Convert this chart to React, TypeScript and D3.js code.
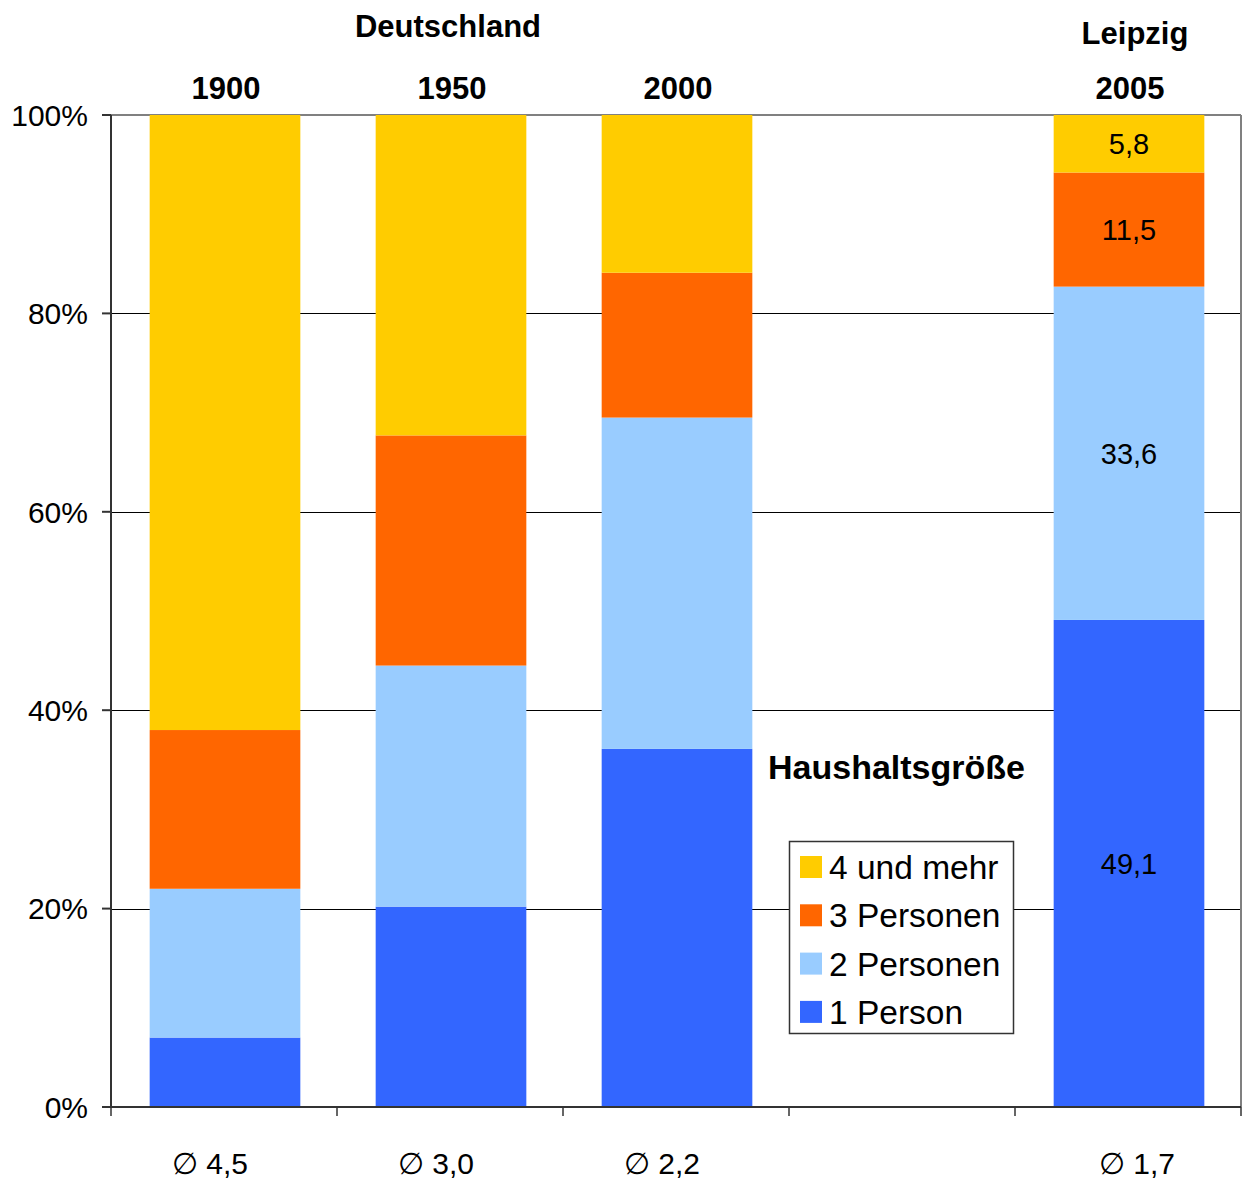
import * as d3 from 'd3';

// categories (the empty slot keeps the gap before Leipzig)
const categories = ['1900', '1950', '2000', '', '2005'];
const yearLabels = ['1900', '1950', '2000', '', '2005'];
const avgLabels = ['∅ 4,5', '∅ 3,0', '∅ 2,2', '', '∅ 1,7'];

// shares in percent, per category
const onePerson = [7, 20.2, 36.1, 0, 49.1];
const twoPersons = [15, 24.3, 33.4, 0, 33.6];
const threePersons = [16, 23.2, 14.6, 0, 11.5];
const fourPlus = [62, 32.3, 15.9, 0, 5.8];

const seriesNames = ['1 Person', '2 Personen', '3 Personen', '4 und mehr'];
const seriesColors = ['#3366ff', '#99ccff', '#ff6600', '#ffcc00'];
const yTicks = [0, 20, 40, 60, 80, 100];

const FONT = 'Liberation Sans, Arial, sans-serif';
const W = 1244;
const H = 1180;
const margin = { top: 115, right: 3, bottom: 73, left: 111 };

type Seg = { cat: string; key: string; y0: number; y1: number; i: number };

export default function App() {
  const keys = categories.map((c, i) => c || 'gap' + i);
  const x = d3
    .scaleBand<string>()
    .domain(keys)
    .range([margin.left + 1, W - margin.right + 1])
    .paddingInner(1 / 3)
    .paddingOuter(1 / 6);
  const y = d3.scaleLinear().domain([0, 100]).range([H - margin.bottom, margin.top]);

  const rows = keys.map((k, i) => ({
    cat: k,
    '1 Person': onePerson[i],
    '2 Personen': twoPersons[i],
    '3 Personen': threePersons[i],
    '4 und mehr': fourPlus[i],
  }));
  const stack = d3.stack<any>().keys(seriesNames)(rows);

  const segs: Seg[] = [];
  stack.forEach((layer, si) => {
    layer.forEach((d, ci) => {
      if (d[1] - d[0] > 0) segs.push({ cat: keys[ci], key: layer.key, y0: d[0], y1: d[1], i: si });
    });
  });

  const step = x.step();
  const bw = x.bandwidth();
  const boundaries = keys.map((k) => (x(k) as number) - (step - bw) / 2 - 1).concat([W - margin.right]);
  const cx = (k: string) => (x(k) as number) + bw / 2;

  const legendItems = seriesNames.map((n, i) => ({ name: n, color: seriesColors[i] })).reverse();
  const fmt = (v: number) => String(+v.toFixed(1)).replace('.', ',');

  return (
    <svg width={W} height={H} style={{ position: 'absolute', left: 0, top: 0 }} fontFamily={FONT}>
      <rect width={W} height={H} fill="#fff" />
      {/* grid */}
      {yTicks.slice(1, -1).map((t) => (
        <line key={t} x1={margin.left} x2={W - margin.right} y1={Math.round(y(t)) + 0.5} y2={Math.round(y(t)) + 0.5} stroke="#000" strokeWidth={1} />
      ))}
      {/* plot border top/right */}
      <line x1={margin.left} x2={W - margin.right} y1={y(100)} y2={y(100)} stroke="#808080" strokeWidth={2} />
      <line x1={W - margin.right} x2={W - margin.right} y1={y(100)} y2={y(0)} stroke="#808080" strokeWidth={2} />

      {/* bars */}
      {segs.map((s) => (
        <rect
          key={s.cat + s.key}
          x={x(s.cat)}
          width={bw}
          y={y(s.y1)}
          height={y(s.y0) - y(s.y1)}
          fill={seriesColors[s.i]}
        />
      ))}

      {/* value labels for Leipzig */}
      {segs
        .filter((s) => s.cat === '2005')
        .map((s) => (
          <text
            key={'l' + s.key}
            x={cx(s.cat)}
            y={y((s.y0 + s.y1) / 2)}
            dy="0.36em"
            textAnchor="middle"
            fontSize={29}
            fill="#000"
          >
            {fmt(s.y1 - s.y0)}
          </text>
        ))}

      {/* axes */}
      <line x1={margin.left} x2={margin.left} y1={y(100)} y2={y(0)} stroke="#333" strokeWidth={2} />
      <line x1={margin.left} x2={W - margin.right} y1={y(0)} y2={y(0)} stroke="#333" strokeWidth={2} />
      {yTicks.map((t) => (
        <g key={'yt' + t}>
          <line x1={margin.left - 9} x2={margin.left} y1={y(t)} y2={y(t)} stroke="#333" strokeWidth={2} />
          <text x={margin.left - 23} y={y(t)} dy="0.36em" textAnchor="end" fontSize={30} fill="#000">
            {t}%
          </text>
        </g>
      ))}
      {boundaries.map((b, i) => (
        <line key={'xt' + i} x1={b} x2={b} y1={y(0)} y2={y(0) + 9} stroke="#333" strokeWidth={1.5} />
      ))}
      {keys.map((k, i) =>
        avgLabels[i] ? (
          <text
            key={'avg' + k}
            x={cx(k) + (yearLabels[i] === '2005' ? 8 : -15)}
            y={H - 6}
            textAnchor="middle"
            fontSize={30}
            fill="#000"
          >
            {avgLabels[i]}
          </text>
        ) : null
      )}

      {/* top labels */}
      {keys.map((k, i) =>
        yearLabels[i] ? (
          <text key={'yr' + k} x={cx(k) + 1} y={99} textAnchor="middle" fontSize={31} fontWeight="bold" fill="#000">
            {yearLabels[i]}
          </text>
        ) : null
      )}
      <text x={cx(keys[1]) - 3} y={37} textAnchor="middle" fontSize={31} fontWeight="bold" fill="#000">
        Deutschland
      </text>
      <text x={cx(keys[4]) + 6} y={44} textAnchor="middle" fontSize={31} fontWeight="bold" fill="#000">
        Leipzig
      </text>

      {/* legend */}
      <text x={768} y={779} fontSize={34} fontWeight="bold" fill="#000">
        Haushaltsgröße
      </text>
      <rect x={789.5} y={841.5} width={224} height={192} fill="#fff" stroke="#333" strokeWidth={1.5} />
      {legendItems.map((it, i) => (
        <g key={it.name} transform={`translate(800, ${867 + i * 48.3})`}>
          <rect x={0} y={-11} width={22} height={22} fill={it.color} />
          <text x={29} y={0} dy="0.36em" fontSize={33.5} fill="#000">
            {it.name}
          </text>
        </g>
      ))}
    </svg>
  );
}
